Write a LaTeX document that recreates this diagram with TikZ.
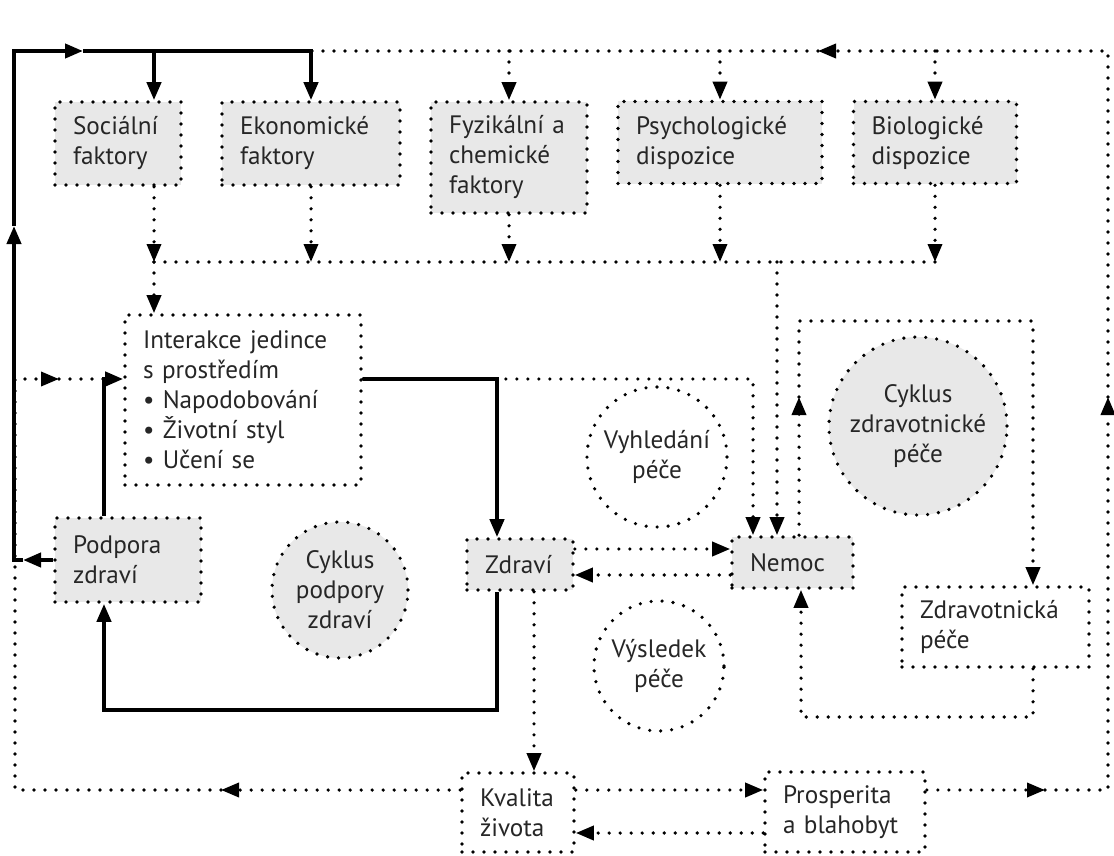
\documentclass[tikz,border=0pt]{standalone}
\usepackage{fontspec}
\setmainfont{PT Sans}
\usetikzlibrary{arrows.meta}
\definecolor{boxgray}{gray}{0.91}
\tikzset{
	dotline/.style={line width=1.8pt, line cap=round, dash pattern=on 0pt off 5.5pt},
	thickline/.style={line width=2pt},
	factor/.style={draw, dotline, fill=boxgray, inner xsep=9pt, inner ysep=0pt, align=left},
	plainbox/.style={draw, dotline, fill=white, inner xsep=9pt, inner ysep=0pt, align=left},
	cyclenode/.style={circle, draw, dotline, inner sep=0pt, align=center},
}
\begin{document}
\begin{tikzpicture}[x=0.5pt, y=-0.5pt, >={Triangle[length=9pt,width=7pt]},
		every node/.append style={font=\fontsize{12.6}{15}\selectfont, text=black!85}]
		\useasboundingbox (0,0) rectangle (1114,856);
		
		% boxes
		\node (soc) [factor, text width=45pt, minimum height=41.5pt] at (118,143.5) {Sociální\\faktory};
		\node (eko) [factor, text width=71pt, minimum height=41.5pt] at (311,143.5) {Ekonomické\\faktory};
		\node (fyz) [factor, text width=60pt, minimum height=55.5pt] at (509,157.5) {Fyzikální a\\chemické\\faktory};
		\node (psy) [factor, text width=84pt, minimum height=41pt] at (720,142.5) {Psychologické\\dispozice};
		\node (bio) [factor, text width=63.5pt, minimum height=41pt] at (935,142.5) {Biologické\\dispozice};
		\node (int) [plainbox, text width=100pt, minimum height=85pt] at (243,400) {Interakce jedince\\s prostředím\\• Napodobování\\• Životní styl\\• Učení se};
		\node (pod) [factor, text width=55pt, minimum height=42pt] at (128,560) {Podpora\\zdraví};
		\node (zdr) [factor, text width=35pt, minimum height=25.5pt] at (520,564.5) {Zdraví};
		\node (nem) [factor, text width=42.5pt, minimum height=25.5pt] at (792.5,562.5) {Nemoc};
		\node (zpe) [plainbox, text width=75.5pt, minimum height=40pt] at (995.5,627) {Zdravotnická\\péče};
		\node (kva) [plainbox, text width=38pt, minimum height=39.5pt] at (518,812.5) {Kvalita\\života};
		\node (pro) [plainbox, text width=62pt, minimum height=40pt] at (845,812) {Prosperita\\a blahobyt};
		
		% cycles
		\node (cpz) [cyclenode, fill=boxgray, minimum size=68pt] at (340,590) {Cyklus\\podpory\\zdraví};
		\node (vyh) [cyclenode, fill=white, minimum size=70pt] at (657,457) {Vyhledání\\péče};
		\node (czp) [cyclenode, fill=boxgray, minimum size=89pt] at (918,426) {Cyklus\\zdravotnické\\péče};
		\node (vys) [cyclenode, fill=white, minimum size=65pt] at (659,666) {Výsledek\\péče};
		
		% outer dotted loop
		\coordinate (rbTip) at (1045,790);
		\coordinate (rbC) at (1108,790);
		\coordinate (rTip) at (1108,397);
		\coordinate (trC) at (1108,51);
		\coordinate (tTip) at (818,51);
		\coordinate (ekoT) at (311,51);
		\draw[dotline,->] (pro.east |- rbC) -- (rbTip);
		\draw[dotline,->] (rbTip) -- (rbC) -- (rTip);
		\draw[dotline,->] (rTip) -- (trC) -- (tTip);
		\draw[dotline] (tTip) -- (ekoT);
		\foreach \n in {fyz,psy,bio}
			\draw[dotline,->] (\n.north |- trC) -- (\n.north);
		
		% left dotted loop
		\coordinate (blTip) at (221,790);
		\coordinate (blC) at (15,790);
		\coordinate (lC) at (15,379);
		\coordinate (lTip) at (59,379);
		\coordinate (podI) at (104,379);
		\draw[dotline,->] (kva.west |- blTip) -- (blTip);
		\draw[dotline,->] (blTip) -- (blC) -- (lC) -- (lTip);
		\draw[dotline] (lTip) -- (podI);
		
		% factors to interaction and illness
		\coordinate (csoc) at (154,262);
		\coordinate (ceko) at (311,262);
		\coordinate (cfyz) at (509,262);
		\coordinate (cpsy) at (720,262);
		\coordinate (cbio) at (935,262);
		\coordinate (cnem) at (777,262);
		\foreach \n in {soc,eko,fyz,psy,bio}
			\draw[dotline,->] (\n.south -| c\n) -- (c\n);
		\draw[dotline] (csoc) -- (cbio);
		\draw[dotline,->] (csoc) -- (csoc |- int.north);
		\draw[dotline,->] (cnem) -- (cnem |- nem.north);
		
		\coordinate (nemA) at (753,379);
		\draw[dotline,->] (int.east |- nemA) -- (nemA) -- (nemA |- nem.north);
		
		% health, illness, quality
		\coordinate (zn1) at (0,549);
		\coordinate (zn2) at (0,575);
		\draw[dotline,->] (zdr.east |- zn1) -- (nem.west |- zn1);
		\draw[dotline,->] (nem.west |- zn2) -- (zdr.east |- zn2);
		\coordinate (zk) at (534,0);
		\draw[dotline,->] (zdr.south -| zk) -- (kva.north -| zk);
		\draw[dotline,->] (kva.east |- rbC) -- (pro.west |- rbC);
		\coordinate (kp) at (0,833);
		\draw[dotline,->] (pro.west |- kp) -- (kva.east |- kp);
		
		% care loop
		\coordinate (careTL) at (799,321);
		\coordinate (careTR) at (1033,321);
		\coordinate (careBR) at (1033,717);
		\coordinate (careBL) at (801,717);
		\coordinate (careTip) at (799,397);
		\draw[dotline,->] (nem.north -| careTL) -- (careTip);
		\draw[dotline,->] (careTip) -- (careTL) -- (careTR) -- (zpe.north -| careTR);
		\draw[dotline,->] (zpe.south -| careBR) -- (careBR) -- (careBL) -- (nem.south -| careBL);
		
		% solid promotion loop
		\coordinate (podTip) at (23,560);
		\coordinate (podL) at (14,560);
		\coordinate (upTip) at (14,226);
		\coordinate (topL) at (14,51);
		\coordinate (topTip) at (83,51);
		\coordinate (socT) at (154,51);
		\draw[thickline,->] (pod.west) -- (podTip);
		\draw[thickline,->] (podTip) -- (podL) -- (upTip);
		\draw[thickline,->] (upTip) -- (topL) -- (topTip);
		\draw[thickline,->] (topTip) -- (ekoT) -- (eko.north);
		\draw[thickline,->] (socT) -- (socT |- soc.north);
		
		\draw[thickline,->] (pod.north -| podI) -- (podI) -- (int.west |- podI);
		\coordinate (zdrI) at (497,379);
		\draw[thickline,->] (int.east |- zdrI) -- (zdrI) -- (zdr.north -| zdrI);
		\coordinate (loopR) at (497,710);
		\coordinate (loopL) at (104,710);
		\draw[thickline,->] (zdr.south -| loopR) -- (loopR) -- (loopL) -- (pod.south -| loopL);
	\end{tikzpicture}
\end{document}
